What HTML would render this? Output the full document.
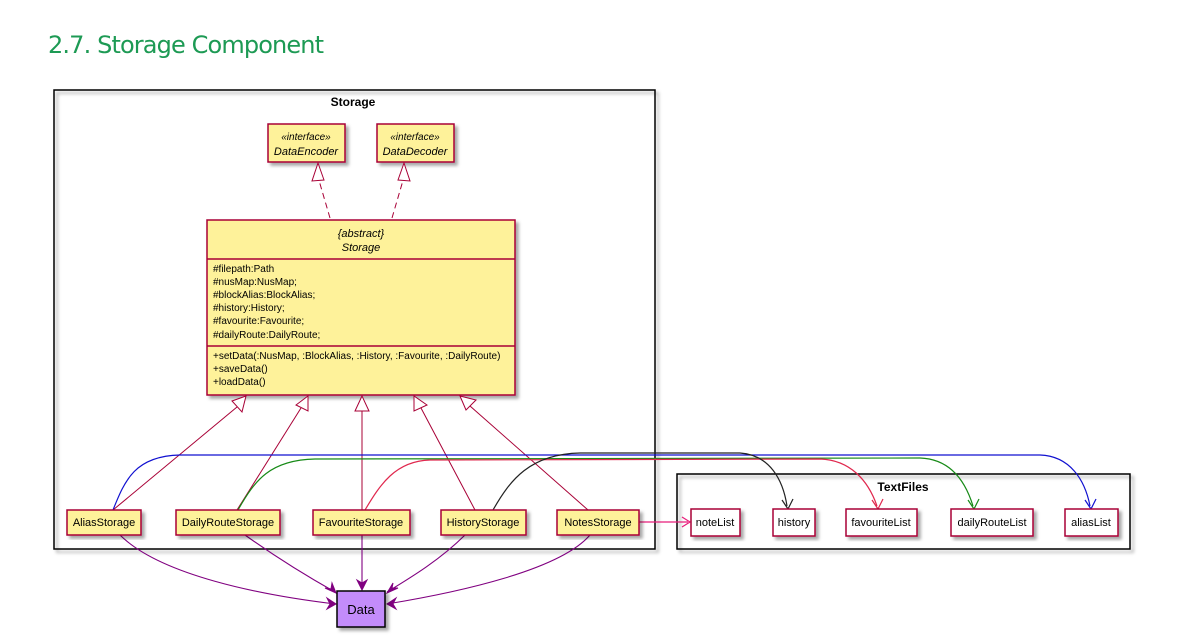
<!DOCTYPE html>
<html><head><meta charset="utf-8"><style>
body{margin:0;background:#fff;width:1195px;height:644px;overflow:hidden}
svg{position:absolute;left:0;top:0}
text{font-family:"Liberation Sans",sans-serif}
</style></head><body>
<svg width="1195" height="644" viewBox="0 0 1195 644">
<defs>
<filter id="sh" x="-10%" y="-10%" width="130%" height="130%"><feDropShadow dx="3" dy="3" stdDeviation="1.5" flood-color="#000" flood-opacity="0.35"/></filter>
</defs>
<text x="48" y="53" font-size="24" fill="#1d9a54" style="font-family:'DejaVu Sans','Liberation Sans',sans-serif" textLength="276">2.7. Storage Component</text>

<rect x="54" y="90" width="601" height="459" fill="none" stroke="#000" stroke-width="1.5" filter="url(#sh)"/>
<text x="353" y="106" font-size="12" font-weight="bold" text-anchor="middle">Storage</text>
<rect x="677" y="474" width="453" height="75" fill="none" stroke="#000" stroke-width="1.5" filter="url(#sh)"/>
<text x="903" y="491" font-size="12" font-weight="bold" text-anchor="middle">TextFiles</text>

<g fill="#fef29a" stroke="#a80036" stroke-width="1.5" filter="url(#sh)">
<rect x="268" y="124" width="77" height="38"/>
<rect x="377" y="124" width="77" height="38"/>
<rect x="207" y="220" width="308" height="175"/>
</g>
<g font-size="11" font-style="italic" text-anchor="middle">
<text x="306" y="140" font-size="10">«interface»</text><text x="306" y="155">DataEncoder</text>
<text x="415" y="140" font-size="10">«interface»</text><text x="415" y="155">DataDecoder</text>
<text x="361" y="237">{abstract}</text><text x="361" y="251">Storage</text>
</g>
<line x1="207" y1="259" x2="515" y2="259" stroke="#a80036" stroke-width="1.5"/>
<line x1="207" y1="346" x2="515" y2="346" stroke="#a80036" stroke-width="1.5"/>
<g font-size="10">
<text x="213" y="272">#filepath:Path</text>
<text x="213" y="285">#nusMap:NusMap;</text>
<text x="213" y="298">#blockAlias:BlockAlias;</text>
<text x="213" y="311">#history:History;</text>
<text x="213" y="324">#favourite:Favourite;</text>
<text x="213" y="338">#dailyRoute:DailyRoute;</text>
<text x="213" y="359">+setData(:NusMap, :BlockAlias, :History, :Favourite, :DailyRoute)</text>
<text x="213" y="372">+saveData()</text>
<text x="213" y="385">+loadData()</text>
</g>

<g stroke="#a80036" stroke-width="1" fill="none" stroke-dasharray="6,4">
<line x1="330" y1="218" x2="318" y2="177"/>
<line x1="392" y1="218" x2="404" y2="177"/>
</g>
<path d="M318,163 L312,181 L324,180 Z" fill="#fff" stroke="#a80036"/>
<path d="M404,163 L398,180 L410,181 Z" fill="#fff" stroke="#a80036"/>

<g stroke="#a80036" stroke-width="1" fill="none">
<line x1="113" y1="510" x2="237" y2="407"/>
<line x1="237" y1="510" x2="301" y2="408"/>
<line x1="362" y1="510" x2="362" y2="410"/>
<line x1="475" y1="510" x2="421" y2="408"/>
<line x1="588" y1="510" x2="470" y2="406"/>
</g>
<g fill="#fff" stroke="#a80036">
<path d="M246,396 L232,401 L242,412 Z"/>
<path d="M308,396 L296,405 L308,411 Z"/>
<path d="M362,396 L355,411 L369,411 Z"/>
<path d="M414,396 L414,411 L427,405 Z"/>
<path d="M460,396 L466,410 L476,400 Z"/>
</g>

<g fill="none" stroke-width="1.2">
<path d="M113,510 C125,480 135,456 180,455 L1040,455 C1070,456 1085,480 1090,506" stroke="#1010d0"/>
<path d="M238,510 C255,480 270,460 315,459 L920,458 C950,459 965,480 973,506" stroke="#178a17"/>
<path d="M365,510 C380,485 395,461 430,460 L820,459 C850,460 868,480 877,506" stroke="#e0284e"/>
<path d="M493,510 C510,480 530,454 580,453 L740,453 C770,455 783,480 787,506" stroke="#222"/>
<path d="M639,522 L688,522" stroke="#e81c7a"/>
</g>
<g fill="none" stroke-width="1.2">
<path d="M1085,500 L1091,509 L1096,499" stroke="#1010d0"/>
<path d="M968,500 L974,509 L979,499" stroke="#178a17"/>
<path d="M872,500 L878,509 L883,499" stroke="#e0284e"/>
<path d="M782,500 L788,509 L793,499" stroke="#222"/>
<path d="M682,517 L690,522 L682,527" stroke="#e81c7a"/>
</g>

<g fill="none" stroke="#800080" stroke-width="1.1">
<path d="M120,535 C160,575 260,595 335,604"/>
<path d="M245,535 C280,560 310,578 335,592"/>
<path d="M362,535 L362,589"/>
<path d="M465,535 C440,560 410,578 387,592"/>
<path d="M590,535 C560,570 460,592 387,604"/>
</g>
<g fill="#800080" stroke="#800080" stroke-width="1">
<path d="M327,598 L336,604 L327,609 L330,604 Z"/>
<path d="M325,588 L336,593 L332,583 L331,589 Z"/>
<path d="M357,580 L362,590 L367,580 L362,583 Z"/>
<path d="M393,583 L387,593 L398,588 L392,588 Z"/>
<path d="M396,598 L387,604 L396,609 L393,604 Z"/>
</g>

<g fill="#fef29a" stroke="#a80036" stroke-width="1.5" filter="url(#sh)">
<rect x="67" y="510" width="74" height="25"/>
<rect x="176" y="510" width="104" height="25"/>
<rect x="313" y="510" width="97" height="25"/>
<rect x="441" y="510" width="85" height="25"/>
<rect x="557" y="510" width="82" height="25"/>
</g>
<g fill="#fff" stroke="#a80036" stroke-width="1.5" filter="url(#sh)">
<rect x="691" y="509" width="49" height="27"/>
<rect x="773" y="509" width="42" height="27"/>
<rect x="846" y="509" width="71" height="27"/>
<rect x="951" y="509" width="82" height="27"/>
<rect x="1065" y="509" width="53" height="27"/>
</g>
<rect x="337" y="591" width="48" height="36" fill="#c38cfb" stroke="#000" stroke-width="1.5" filter="url(#sh)"/>
<g font-size="11" text-anchor="middle">
<text x="104" y="526">AliasStorage</text>
<text x="228" y="526">DailyRouteStorage</text>
<text x="361" y="526">FavouriteStorage</text>
<text x="483" y="526">HistoryStorage</text>
<text x="598" y="526">NotesStorage</text>
<text x="715" y="526">noteList</text>
<text x="794" y="526">history</text>
<text x="881" y="526">favouriteList</text>
<text x="992" y="526">dailyRouteList</text>
<text x="1091" y="526">aliasList</text>
<text x="361" y="614" font-size="13">Data</text>
</g>
</svg>
</body></html>
